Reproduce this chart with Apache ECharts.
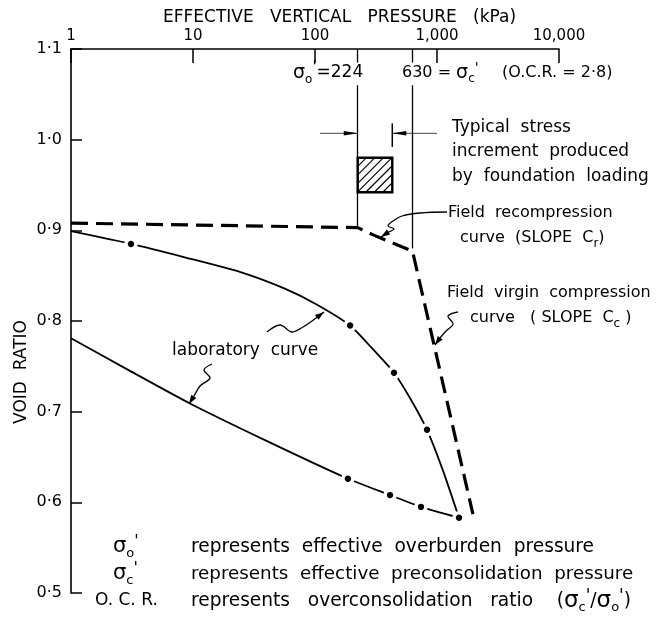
<!DOCTYPE html>
<html><head><meta charset="utf-8">
<script src="https://cdn.jsdelivr.net/npm/echarts/dist/echarts.min.js"></script>
<style>html,body{margin:0;padding:0;background:#fff}#c{width:665px;height:621px}</style>
</head><body><div id="c"></div>
<script>
// ---- data ----
const xTicks = [1, 10, 100, 1000, 10000];
const xTickLabels = ['1', '10', '100', '1,000', '10,000'];
const yTickLabels = ['0·5', '0·6', '0·7', '0·8', '0·9', '1·0', '1·1'];

const fieldPressure = [1, 224, 300, 630, 1970];
const fieldVoid = [0.908, 0.903, 0.895, 0.877, 0.587];

const labUpperPressure = [1, 3.1, 8.7, 24.5, 56, 104, 194, 293, 444, 607, 828, 1120, 1514];
const labUpperVoid = [0.899, 0.885, 0.870, 0.854, 0.836, 0.818, 0.795, 0.770, 0.743, 0.714, 0.680, 0.635, 0.583];

const labLowerPressure = [1, 3.04, 9.45, 39.7, 186, 412, 739, 1514];
const labLowerVoid = [0.781, 0.745, 0.709, 0.668, 0.626, 0.608, 0.595, 0.583];

const labDotPressure = [3.1, 194, 444, 828, 1514, 186, 412, 739];
const labDotVoid = [0.885, 0.795, 0.743, 0.680, 0.583, 0.626, 0.608, 0.595];

const sigmaO = 224;
const sigmaC = 630;
const refLineVoidTop = [1.06, 1.06];
const refLineVoidBottom = [0.903, 0.880];

const boxPressure = [224, 430];
const boxVoid = [0.942, 0.980];

const stressArrowPressure = [110, 224, 430, 1000];
const stressArrowVoid = [1.007, 1.018, 0.992];

// ---- helpers ----
const FF = '"DejaVu Sans", sans-serif';
const pairs = (xs, ys) => xs.map((x, i) => [x, ys[i]]);

function arrowHead(tip, from, L, w) {
  L = L || 9; w = w || 3;
  const dx = tip[0] - from[0], dy = tip[1] - from[1];
  const d = Math.hypot(dx, dy) || 1;
  const ux = dx / d, uy = dy / d;
  const bx = tip[0] - ux * L, by = tip[1] - uy * L;
  return [tip, [bx - uy * w, by + ux * w], [bx + uy * w, by - ux * w]];
}

function renderBox(params, api) {
  const p0 = api.coord([api.value(0), api.value(3)]);
  const p1 = api.coord([api.value(1), api.value(2)]);
  const x0 = p0[0], y0 = p0[1], x1 = p1[0], y1 = p1[1];
  const children = [];
  const step = 8.5;
  for (let c = x0 + y0 + step; c < x1 + y1; c += step) {
    const xa = Math.max(x0, c - y1), xb = Math.min(x1, c - y0);
    if (xb > xa) children.push({ type: 'line', shape: { x1: xa, y1: c - xa, x2: xb, y2: c - xb }, style: { stroke: '#000', lineWidth: 1.2 } });
  }
  children.push({ type: 'rect', shape: { x: x0, y: y0, width: x1 - x0, height: y1 - y0 }, style: { fill: null, stroke: '#000', lineWidth: 2.4 } });
  return { type: 'group', children };
}

function renderDim(params, api) {
  const e = api.value(4);
  const a = api.coord([api.value(0), e]);
  const b = api.coord([api.value(1), e]);
  const c = api.coord([api.value(2), e]);
  const d = api.coord([api.value(3), e]);
  const bt = api.coord([api.value(2), api.value(5)]);
  const bb = api.coord([api.value(2), api.value(6)]);
  const st = { stroke: '#444', lineWidth: 1 };
  return {
    type: 'group', children: [
      { type: 'line', shape: { x1: a[0], y1: a[1], x2: b[0], y2: b[1] }, style: st },
      { type: 'polygon', shape: { points: arrowHead(b, a, 14, 2.2) }, style: { fill: '#000' } },
      { type: 'line', shape: { x1: c[0], y1: c[1], x2: d[0], y2: d[1] }, style: st },
      { type: 'polygon', shape: { points: arrowHead(c, d, 14, 2.2) }, style: { fill: '#000' } },
      { type: 'line', shape: { x1: bt[0], y1: bt[1], x2: bb[0], y2: bb[1] }, style: { stroke: '#000', lineWidth: 1.5 } }
    ]
  };
}

function leader(points, tip) {
  return [
    { type: 'polyline', shape: { points: points.concat([tip]), smooth: 0.35 }, style: { stroke: '#000', lineWidth: 1.3, fill: null } },
    { type: 'polygon', shape: { points: arrowHead(tip, points[points.length - 1], 9, 3) }, style: { fill: '#000' } }
  ];
}

function txt(x, y, text, size, opts) {
  opts = opts || {};
  return {
    type: 'text', x: x, y: y, rotation: opts.rotation || 0,
    style: {
      text: text, fill: '#000', font: (opts.weight || 'normal') + ' ' + size + 'px ' + FF,
      textAlign: opts.align || 'left', textVerticalAlign: 'middle', align: opts.align || 'left', verticalAlign: 'middle',
      rich: opts.rich
    }
  };
}
function richSet(size, sigSize) {
  const lh = size + 8;
  return {
    m: { fontSize: size, fontFamily: FF, fill: '#000', lineHeight: lh, verticalAlign: 'middle' },
    g: { fontSize: sigSize || size, fontFamily: FF, fill: '#000', lineHeight: lh, verticalAlign: 'middle' },
    s: { fontSize: Math.round(size * 0.72), fontFamily: FF, fill: '#000', lineHeight: lh, verticalAlign: 'bottom' },
    p: { fontSize: Math.round(size * 0.9), fontFamily: FF, fill: '#000', lineHeight: lh, verticalAlign: 'top' }
  };
}

const graphics = [].concat(
  [txt(163, 18, 'EFFECTIVE   VERTICAL   PRESSURE   (kPa)', 17)],
  [txt(293, 73, "{g|σ}{s|o}{p|'}{m|=224}", 17, { rich: richSet(17, 19) })],
  [txt(402, 73, "{m|630 = }{g|σ}{s|c}{p|'}", 16, { rich: richSet(16, 19) })],
  [txt(502, 73, '(O.C.R. = 2·8)', 16)],
  [txt(452, 128, 'Typical  stress', 17)],
  [txt(452, 152, 'increment  produced', 17)],
  [txt(452, 177, 'by  foundation  loading', 17)],
  [txt(448, 213, 'Field  recompression', 16)],
  [txt(460, 238, '{m|curve  (SLOPE  C}{s|r}{m|)}', 16, { rich: richSet(16) })],
  [txt(447, 293, 'Field  virgin  compression', 16)],
  [txt(470, 318, '{m|curve   ( SLOPE  C}{s|c}{m| )}', 16, { rich: richSet(16) })],
  [txt(172, 351, 'laboratory  curve', 17)],
  [txt(22, 372, 'VOID  RATIO', 17, { rotation: Math.PI / 2, align: 'center' })],
  [txt(113, 547, "{g|σ}{s|o}{p|'}", 18, { rich: richSet(18, 21) })],
  [txt(191, 547, 'represents  effective  overburden  pressure', 18.6)],
  [txt(113, 574, "{g|σ}{s|c}{p|'}", 18, { rich: richSet(18, 21) })],
  [txt(191, 574, 'represents  effective  preconsolidation  pressure', 18.3)],
  [txt(95, 601, 'O. C. R.', 17)],
  [txt(191, 601, "{m|represents   overconsolidation   ratio    (}{g|σ}{s|c}{p|'}{m|/}{g|σ}{s|o}{p|'}{m|)}", 18.6, { rich: richSet(18.6, 23) })],
  leader([[447, 212], [420, 213], [402, 216], [393, 221], [388, 226], [394, 229], [387, 233]], [381, 237]),
  leader([[458, 312], [448, 316], [453, 324], [446, 331], [440, 338]], [435, 345]),
  leader([[267, 332], [280, 325], [292, 332], [303, 327], [312, 321]], [324, 312]),
  leader([[212, 364], [204, 370], [210, 378], [200, 386], [194, 396]], [189, 404])
);

const chart = echarts.init(document.getElementById('c'));
chart.setOption({
  backgroundColor: '#fff',
  animation: false,
  grid: { left: 71, top: 49, width: 488, height: 544, containLabel: false, outerBoundsMode: 'none' },
  xAxis: {
    type: 'log', logBase: 10, min: 1, max: 10000, position: 'top',
    axisLine: { show: true, lineStyle: { color: '#000', width: 1.6 } },
    axisTick: { show: true, inside: true, length: 14, lineStyle: { color: '#000', width: 1.5 } },
    minorTick: { show: false }, splitLine: { show: false },
    axisLabel: {
      color: '#000', fontSize: 15, fontFamily: FF, margin: 5, hideOverlap: false,
      formatter: v => { const i = xTicks.indexOf(Math.round(v)); return i >= 0 ? xTickLabels[i] : ''; }
    }
  },
  yAxis: {
    type: 'value', min: 0.5, max: 1.1, interval: 0.1,
    axisLine: { show: true, lineStyle: { color: '#000', width: 1.6 } },
    axisTick: { show: true, inside: true, length: 11, lineStyle: { color: '#000', width: 1.5 } },
    splitLine: { show: false },
    axisLabel: {
      color: '#000', fontSize: 16, fontFamily: FF, margin: 9,
      formatter: v => yTickLabels[Math.round((v - 0.5) * 10)]
    }
  },
  series: [
    {
      name: 'field', type: 'line', data: pairs(fieldPressure, fieldVoid), symbol: 'none',
      lineStyle: { color: '#000', width: 3.2, type: [17, 8] }, z: 3,
      markLine: {
        silent: true, symbol: 'none', label: { show: false },
        lineStyle: { color: '#000', width: 1.3, type: 'solid' },
        data: [
          [{ coord: [sigmaO, refLineVoidTop[0]] }, { coord: [sigmaO, refLineVoidBottom[0]] }],
          [{ coord: [sigmaC, refLineVoidTop[1]] }, { coord: [sigmaC, refLineVoidBottom[1]] }],
          [{ coord: [sigmaO, 1.1] }, { coord: [sigmaO, 1.085] }],
          [{ coord: [sigmaC, 1.1] }, { coord: [sigmaC, 1.085] }]
        ]
      }
    },
    { name: 'labUpper', type: 'line', data: pairs(labUpperPressure, labUpperVoid), symbol: 'none', smooth: 0.2, lineStyle: { color: '#000', width: 1.8 }, z: 3 },
    { name: 'labLower', type: 'line', data: pairs(labLowerPressure, labLowerVoid), symbol: 'none', smooth: 0.2, lineStyle: { color: '#000', width: 1.8 }, z: 3 },
    {
      name: 'dots', type: 'scatter', data: pairs(labDotPressure, labDotVoid), symbol: 'circle', symbolSize: 10,
      itemStyle: { color: '#000', borderColor: '#fff', borderWidth: 3.6, opacity: 1 }, z: 5
    },
    { name: 'box', type: 'custom', renderItem: renderBox, data: [[boxPressure[0], boxPressure[1], boxVoid[0], boxVoid[1]]], z: 4 },
    {
      name: 'dim', type: 'custom', renderItem: renderDim,
      data: [[stressArrowPressure[0], stressArrowPressure[1], stressArrowPressure[2], stressArrowPressure[3], stressArrowVoid[0], stressArrowVoid[1], stressArrowVoid[2]]], z: 4
    }
  ],
  graphic: graphics
});
</script></body></html>
